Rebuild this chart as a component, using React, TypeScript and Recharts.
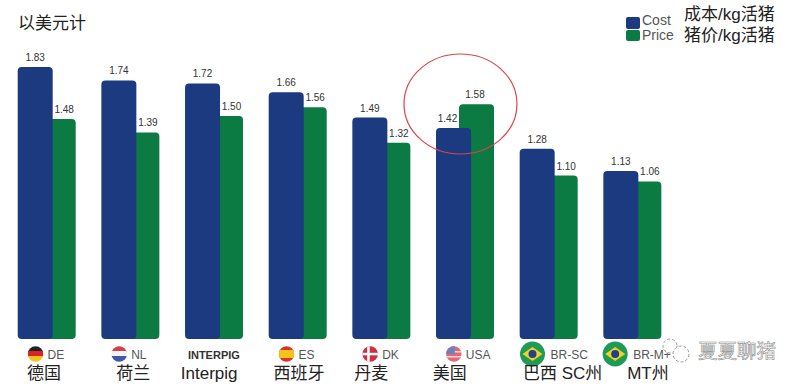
import React from 'react';
import { BarChart, Bar, XAxis, YAxis, LabelList, Legend } from 'recharts';

const codes = ['DE', 'NL', 'INTERPIG', 'ES', 'DK', 'USA', 'BR-SC', 'BR-M+'];
const names = ['德国', '荷兰', 'Interpig', '西班牙', '丹麦', '美国', '巴西 SC州', 'MT州'];
const cost = [1.83, 1.74, 1.72, 1.66, 1.49, 1.42, 1.28, 1.13];
const price = [1.48, 1.39, 1.5, 1.56, 1.32, 1.58, 1.1, 1.06];

const chartData = codes.map((code, i) => ({ code, name: names[i], cost: cost[i], price: price[i] }));

const BLUE = '#1b3a80';
const GREEN = '#0c7a43';
const FONT = '"Liberation Sans", "Noto Sans CJK SC", sans-serif';
const USA = 5;

// hand-tuned label nudges, the source picture is not regular
const nameShift = [-8.5, -3, -22, -13, -16, -21, -14.5, 6];
const flagShift = [0, 0, 0, 0, 0, 0, -5, -6];

const Flag = ({ code, x }: { code: string; x: number }) => {
  const y = 354;
  const id = `clip-${code.replace(/\W/g, '')}`;
  if (code === 'BR-SC' || code === 'BR-M+') {
    return (
      <g>
        <circle cx={x} cy={y} r={12.5} fill="#1f9a57" />
        <path d={`M${x - 10} ${y} L${x} ${y - 7} L${x + 10} ${y} L${x} ${y + 7} Z`} fill="#f2d21f" />
        <circle cx={x} cy={y} r={4} fill="#23408e" />
      </g>
    );
  }
  let body: React.ReactNode = null;
  if (code === 'DE') {
    body = (
      <>
        <rect x={x - 8} y={y - 8} width={16} height={6} fill="#222" />
        <rect x={x - 8} y={y - 3} width={16} height={6} fill="#d8232a" />
        <rect x={x - 8} y={y + 2} width={16} height={6} fill="#f5c518" />
      </>
    );
  } else if (code === 'NL') {
    body = (
      <>
        <rect x={x - 8} y={y - 8} width={16} height={6} fill="#d4404a" />
        <rect x={x - 8} y={y - 3} width={16} height={6} fill="#f4f4f8" />
        <rect x={x - 8} y={y + 2} width={16} height={6} fill="#3c5aa8" />
      </>
    );
  } else if (code === 'ES') {
    body = (
      <>
        <rect x={x - 8} y={y - 8} width={16} height={16} fill="#d8352a" />
        <rect x={x - 8} y={y - 4} width={16} height={8} fill="#f6c31c" />
      </>
    );
  } else if (code === 'DK') {
    body = (
      <>
        <rect x={x - 8} y={y - 8} width={16} height={16} fill="#cf2f45" />
        <rect x={x - 3} y={y - 8} width={2.5} height={16} fill="#fff" />
        <rect x={x - 8} y={y - 1.2} width={16} height={2.5} fill="#fff" />
      </>
    );
  } else if (code === 'USA') {
    body = (
      <>
        <rect x={x - 8} y={y - 8} width={16} height={16} fill="#df6b78" />
        <rect x={x - 8} y={y - 3} width={16} height={1.5} fill="#f3d5d8" />
        <rect x={x - 8} y={y + 2} width={16} height={1.5} fill="#f3d5d8" />
        <rect x={x - 8} y={y - 8} width={9} height={8} fill="#6f7fc0" />
      </>
    );
  }
  return (
    <g>
      <clipPath id={id}>
        <circle cx={x} cy={y} r={7.8} />
      </clipPath>
      <g clipPath={`url(#${id})`}>{body}</g>
    </g>
  );
};

const CountryTick = ({ x, index }: any) => {
  const code = codes[index];
  const fx = x + flagShift[index];
  const isInterpig = code === 'INTERPIG';
  const isBig = code.startsWith('BR');
  return (
    <g fontFamily={FONT}>
      {isInterpig ? (
        <text x={x + 11} y={359} textAnchor="middle" fontSize={11} fontWeight={700} fill="#333">
          {code}
        </text>
      ) : (
        <>
          <Flag code={code} x={fx} />
          <text x={fx + (isBig ? 18 : 12)} y={359} fontSize={12} fontWeight={500} fill="#555">
            {code}
          </text>
        </>
      )}
      <text x={x + nameShift[index]} y={379} fontSize={17} fill="#222">
        {names[index]}
      </text>
    </g>
  );
};

const ValueLabel = ({ x, y, width, value, index, shift, usaShift }: any) => (
  <text
    x={x + width / 2 + (index === USA ? usaShift : shift)}
    y={y - 6}
    textAnchor="middle"
    fontSize={10}
    fontFamily={FONT}
    fill="#333"
  >
    {Number(value).toFixed(2)}
  </text>
);

const LegendBox = () => (
  <div style={{ position: 'relative', width: 176, height: 50, fontFamily: FONT }}>
    <div style={{ position: 'absolute', left: 2, top: 17, width: 14, height: 12, background: BLUE, borderRadius: 2 }} />
    <div style={{ position: 'absolute', left: 2, top: 30, width: 14, height: 11, background: GREEN, borderRadius: 2 }} />
    <div style={{ position: 'absolute', left: 18, top: 12, fontSize: 14, color: '#555' }}>Cost</div>
    <div style={{ position: 'absolute', left: 18, top: 27, fontSize: 14, color: '#555' }}>Price</div>
    <div style={{ position: 'absolute', left: 60, top: 0, fontSize: 17, color: '#222', whiteSpace: 'nowrap' }}>成本/kg活猪</div>
    <div style={{ position: 'absolute', left: 60, top: 21, fontSize: 17, color: '#222', whiteSpace: 'nowrap' }}>猪价/kg活猪</div>
  </div>
);

export default function App() {
  return (
    <div style={{ position: 'absolute', left: 0, top: 0, width: 800, height: 386, background: '#fff', overflow: 'hidden' }}>
      <BarChart
        width={800}
        height={386}
        data={chartData}
        margin={{ top: 0, right: 114, bottom: 0, left: -6.3 }}
      >
        <XAxis
          xAxisId="c"
          dataKey="code"
          height={47}
          padding={{ left: 0, right: 23 }}
          axisLine={false}
          tickLine={false}
          interval={0}
          tick={<CountryTick />}
        />
        <XAxis xAxisId="p" dataKey="code" hide padding={{ left: 23, right: 0 }} />
        {/* the legend reserves the top 50px, so the plot is 289px tall */}
        <YAxis hide domain={[0, 1.945]} />
        <Legend
          verticalAlign="top"
          align="right"
          content={<LegendBox />}
          wrapperStyle={{ position: 'absolute', left: 624, top: 0, width: 176 }}
        />
        {/* green goes first so the blue bar sits on top of it */}
        <Bar xAxisId="p" dataKey="price" barSize={35} fill={GREEN} radius={4} isAnimationActive={false}>
          <LabelList dataKey="price" content={<ValueLabel shift={6} usaShift={-1.5} />} />
        </Bar>
        <Bar xAxisId="c" dataKey="cost" barSize={35} fill={BLUE} radius={4} isAnimationActive={false}>
          <LabelList dataKey="cost" content={<ValueLabel shift={0} usaShift={-6} />} />
        </Bar>
      </BarChart>

      <div style={{ position: 'absolute', left: 18, top: 9, fontSize: 17, fontFamily: FONT, color: '#222' }}>以美元计</div>

      {/* red circle and the watermark sit over the chart */}
      <svg width={800} height={386} style={{ position: 'absolute', left: 0, top: 0, pointerEvents: 'none' }}>
        <ellipse cx={460.5} cy={104} rx={56.5} ry={50} fill="none" stroke="#d9454a" strokeWidth={1.2} />
        <circle cx={670} cy={346} r={7} fill="#fff" stroke="#999" strokeWidth={1} strokeDasharray="3 2" />
        <circle cx={681} cy={354} r={8} fill="#fff" stroke="#999" strokeWidth={1} strokeDasharray="3 2" />
        <text
          x={698}
          y={358}
          fontSize={19.5}
          fontFamily='"Noto Sans CJK SC", sans-serif'
          fill="#fff"
          stroke="#8a8a8a"
          strokeWidth={0.6}
        >
          夏夏聊猪
        </text>
      </svg>
    </div>
  );
}
